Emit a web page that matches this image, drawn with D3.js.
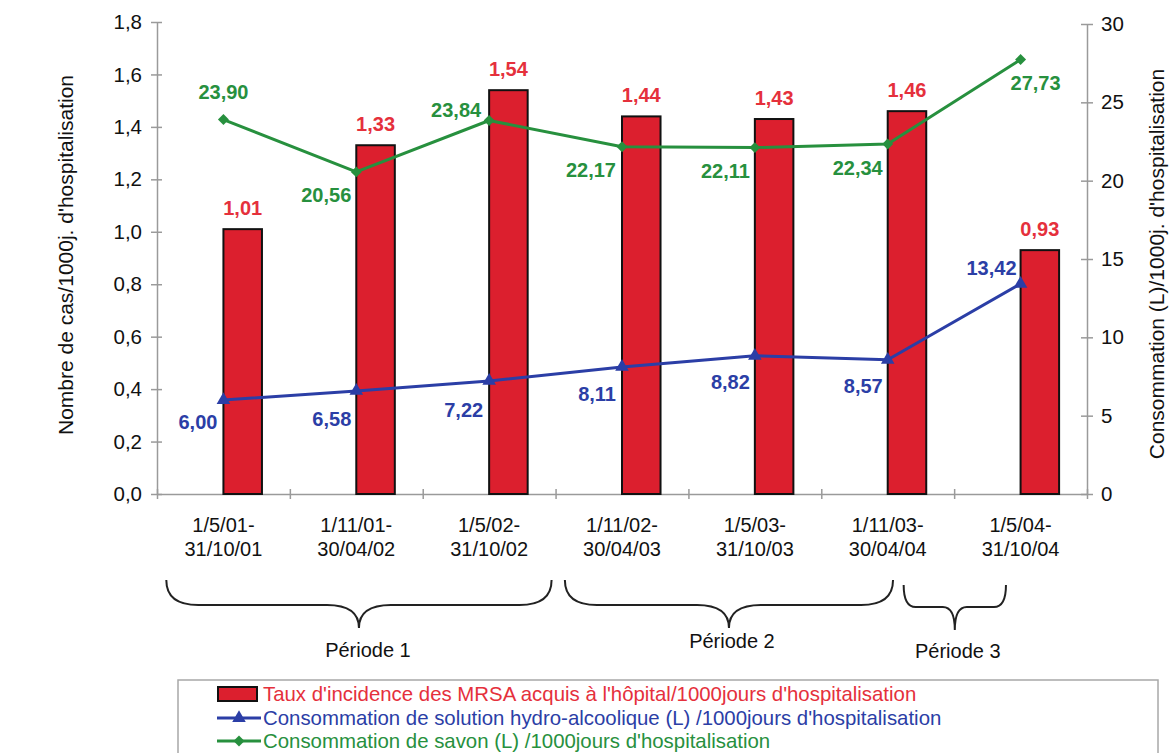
<!DOCTYPE html>
<html>
<head>
<meta charset="utf-8">
<script src="https://cdn.jsdelivr.net/npm/d3@7"></script>
<style>
  html, body { margin: 0; padding: 0; background: #fff; }
  svg { display: block; font-family: "Liberation Sans", Arial, sans-serif; }
</style>
</head>
<body>
<svg id="chart" width="1173" height="753"></svg>
<script>
// ---------- data ----------
const categories = [
  ["1/5/01-", "31/10/01"],
  ["1/11/01-", "30/04/02"],
  ["1/5/02-", "31/10/02"],
  ["1/11/02-", "30/04/03"],
  ["1/5/03-", "31/10/03"],
  ["1/11/03-", "30/04/04"],
  ["1/5/04-", "31/10/04"]
];
const mrsaRate = [1.01, 1.33, 1.54, 1.44, 1.43, 1.46, 0.93];
const hydroAlcohol = [6.00, 6.58, 7.22, 8.11, 8.82, 8.57, 13.42];
const soap = [23.90, 20.56, 23.84, 22.17, 22.11, 22.34, 27.73];
const leftTicks = [0, 0.2, 0.4, 0.6, 0.8, 1.0, 1.2, 1.4, 1.6, 1.8];
const rightTicks = [0, 5, 10, 15, 20, 25, 30];
const periods = ["Période 1", "Période 2", "Période 3"];
// brace spans in category units (start, end)
const periodSpans = [[0.07, 2.97], [3.07, 5.54], [5.62, 6.39]];
const legendLabels = [
  "Taux d'incidence des MRSA acquis à l'hôpital/1000jours d'hospitalisation",
  "Consommation de solution hydro-alcoolique (L) /1000jours d'hospitalisation",
  "Consommation de savon (L) /1000jours d'hospitalisation"
];
const leftTitle = "Nombre de cas/1000j. d'hospitalisation";
const rightTitle = "Consommation (L)/1000j. d'hospitalisation";

// ---------- label placement (dx, dy, anchor) ----------
const soapLabelPos = [[0,-21,"middle"],[-5,30,"end"],[-8,-4,"end"],[-6,30,"end"],[-5,30,"end"],[-5,31,"end"],[-10,30,"start"]];
const hydroLabelPos = [[-6,29,"end"],[-5,35,"end"],[-6,36,"end"],[-6,34,"end"],[-5,33,"end"],[-5,33,"end"],[-4,-9,"end"]];
const periodLabelY = [657, 648, 658];
const periodLabelDx = [9, 3, 3];

// ---------- style ----------
const RED = "#dc1f2e", RED_T = "#e5303c", BLUE = "#2b3ea6", GREEN = "#27903e";
const AXIS = "#9a9a9a", TXT = "#111";
const fmt = v => d3.format(".2f")(v).replace(".", ",");
const fmt1 = v => d3.format(".1f")(v).replace(".", ",");

const svg = d3.select("#chart");
const L = 157, R = 1087, T = 22, B = 494;

const x = d3.scaleBand().domain(d3.range(categories.length)).range([L, R]).padding(0);
const bw = x.bandwidth();
const cx = i => x(i) + bw / 2;
const xc = d3.scaleLinear().domain([0, categories.length]).range([L, R]);
const yL = d3.scaleLinear().domain([0, 1.8]).range([B, T]);
const yR = d3.scaleLinear().domain([0, 30]).range([B, T + 2]);

// ---------- axes ----------
const gL = svg.append("g").attr("transform", `translate(${L},0)`)
  .call(d3.axisLeft(yL).tickValues(leftTicks).tickFormat(fmt1).tickSize(6).tickPadding(9).tickSizeOuter(0));
gL.selectAll(".tick line").attr("x1", 5);
const gR = svg.append("g").attr("transform", `translate(${R},0)`)
  .call(d3.axisRight(yR).tickValues(rightTicks).tickSize(6).tickPadding(8).tickSizeOuter(0));
gR.selectAll(".tick line").attr("x1", -6);
[gL, gR].forEach(g => {
  g.selectAll("path.domain").attr("stroke", AXIS).attr("stroke-width", 1.5);
  g.selectAll(".tick line").attr("stroke", AXIS).attr("stroke-width", 1.5);
  g.selectAll(".tick text").attr("fill", TXT).style("font-size", "20.5px").style("font-family", "Liberation Sans, Arial, sans-serif");
});

const gB = svg.append("g").attr("transform", `translate(0,${B})`)
  .call(d3.axisBottom(xc).tickValues(d3.range(categories.length + 1)).tickFormat("").tickSize(5).tickSizeOuter(0));
gB.selectAll("path.domain").attr("stroke", AXIS).attr("stroke-width", 1.5);
gB.selectAll(".tick line").attr("y1", -5).attr("stroke", AXIS).attr("stroke-width", 1.5);

// category labels
const catText = svg.append("g").selectAll("text").data(categories).join("text")
  .attr("text-anchor", "middle").attr("fill", TXT).style("font-size", "20px");
catText.append("tspan").attr("x", (d, i) => cx(i)).attr("y", 532).text(d => d[0]);
catText.append("tspan").attr("x", (d, i) => cx(i)).attr("y", 556).text(d => d[1]);

// axis titles
svg.append("text").attr("transform", `translate(73,255) rotate(-90)`)
  .attr("text-anchor", "middle").attr("fill", TXT).style("font-size", "21px").text(leftTitle);
svg.append("text").attr("transform", `translate(1164,264) rotate(-90)`)
  .attr("text-anchor", "middle").attr("fill", TXT).style("font-size", "21px").text(rightTitle);

// ---------- bars ----------
const barW = bw * 0.29;
svg.append("g").selectAll("rect").data(mrsaRate).join("rect")
  .attr("x", (d, i) => cx(i)).attr("width", barW)
  .attr("y", d => yL(d)).attr("height", d => B - yL(d))
  .attr("fill", RED).attr("stroke", "#111").attr("stroke-width", 2);
svg.append("g").selectAll("text").data(mrsaRate).join("text")
  .attr("x", (d, i) => cx(i) + barW / 2).attr("y", d => yL(d) - 14)
  .attr("text-anchor", "middle").attr("fill", RED_T)
  .style("font-size", "20px").style("font-weight", "bold").text(fmt);

// ---------- lines ----------
function drawLine(values, color, symbolType, size, rotate, pos) {
  const line = d3.line().x((d, i) => cx(i)).y(d => yR(d));
  svg.append("path").datum(values).attr("d", line)
    .attr("fill", "none").attr("stroke", color).attr("stroke-width", 3).attr("stroke-linejoin", "round");
  svg.append("g").selectAll("path").data(values).join("path")
    .attr("d", d3.symbol().type(symbolType).size(size))
    .attr("transform", (d, i) => `translate(${cx(i)},${yR(d)}) rotate(${rotate})`)
    .attr("fill", color);
  svg.append("g").selectAll("text").data(values).join("text")
    .attr("x", (d, i) => cx(i) + pos[i][0]).attr("y", (d, i) => yR(d) + pos[i][1])
    .attr("text-anchor", (d, i) => pos[i][2]).attr("fill", color)
    .style("font-size", "20px").style("font-weight", "bold").text(fmt);
}
drawLine(hydroAlcohol, BLUE, d3.symbolTriangle, 80, 0, hydroLabelPos);
drawLine(soap, GREEN, d3.symbolSquare, 60, 45, soapLabelPos);

// ---------- period braces ----------
const braceG = svg.append("g");
periodSpans.forEach((s, k) => {
  const x1 = xc(s[0]), x2 = xc(s[1]), m = (x1 + x2) / 2;
  const small = (x2 - x1) < 150;
  const top = small ? 585 : 580, mid = small ? 607 : 605, tip = small ? 630 : 628;
  const r = small ? 12 : 32;
  const p = `M${x1},${top} Q${x1},${mid} ${x1 + r},${mid} L${m - r},${mid} Q${m},${mid} ${m},${tip} ` +
            `Q${m},${mid} ${m + r},${mid} L${x2 - r},${mid} Q${x2},${mid} ${x2},${top}`;
  braceG.append("path").attr("d", p).attr("fill", "none").attr("stroke", "#222").attr("stroke-width", 2);
  braceG.append("text").attr("x", m + periodLabelDx[k]).attr("y", periodLabelY[k])
    .attr("text-anchor", "middle").attr("fill", TXT).style("font-size", "20px").text(periods[k]);
});

// ---------- legend ----------
const lg = svg.append("g");
lg.append("rect").attr("x", 178).attr("y", 680).attr("width", 980).attr("height", 120)
  .attr("fill", "none").attr("stroke", "#a8a8a8").attr("stroke-width", 1.5);
const legendColors = [RED_T, BLUE, GREEN];
const rowY = [694, 718, 741];
lg.append("rect").attr("x", 218).attr("y", rowY[0] - 7).attr("width", 39).attr("height", 14)
  .attr("fill", RED).attr("stroke", "#111").attr("stroke-width", 2);
[[BLUE, d3.symbolTriangle, 80, 0], [GREEN, d3.symbolSquare, 60, 45]].forEach((c, k) => {
  const y = rowY[k + 1];
  lg.append("line").attr("x1", 217).attr("x2", 261).attr("y1", y).attr("y2", y)
    .attr("stroke", c[0]).attr("stroke-width", 3);
  lg.append("path").attr("d", d3.symbol().type(c[1]).size(c[2]))
    .attr("transform", `translate(239,${y}) rotate(${c[3]})`).attr("fill", c[0]);
});
lg.selectAll("text.lt").data(legendLabels).join("text").attr("class", "lt")
  .attr("x", 263).attr("y", (d, i) => rowY[i] + 7)
  .attr("fill", (d, i) => legendColors[i]).style("font-size", "20.4px").text(d => d);
</script>
</body>
</html>
